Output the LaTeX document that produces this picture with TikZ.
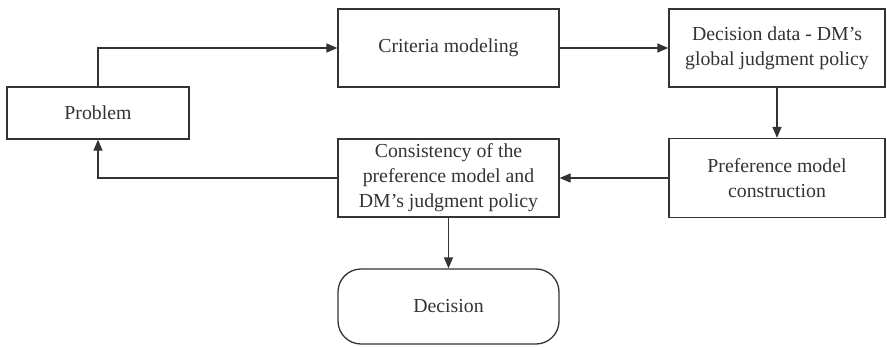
\documentclass[tikz,border=0pt]{standalone}
\usepackage{fontspec}
\setmainfont{Liberation Serif}
\usetikzlibrary{arrows.meta}
\definecolor{ink}{HTML}{333333}
\tikzset{
  box/.style={draw=ink, line width=1.3pt, text=ink, inner sep=0pt, align=center,
    font=\fontsize{19.8}{25}\selectfont},
  roundbox/.style={box, rounded corners=23pt},
  link/.style={draw=ink, line width=1.3pt, -{Triangle[length=11pt,width=9pt]}},
}
\begin{document}
\begin{tikzpicture}[x=1pt,y=-1pt]
  \useasboundingbox (0,0) rectangle (887,346);
  % process steps
  \node[box, minimum width=182pt, minimum height=52pt] (problem) at (98,113) {Problem};
  \node[box, minimum width=221pt, minimum height=78pt] (criteria) at (448.5,48) {Criteria modeling};
  \node[box, minimum width=216pt, minimum height=78pt] (data) at (777,48) {Decision data - DM’s\\global judgment policy};
  \node[box, minimum width=216pt, minimum height=79pt] (pref) at (777,178) {Preference model\\construction};
  \node[box, minimum width=221pt, minimum height=78pt] (consist) at (448.5,178) {Consistency of the\\preference model and\\DM’s judgment policy};
  \node[roundbox, minimum width=221pt, minimum height=75pt] (decision) at (448.5,306.5) {Decision};
  % connectors
  \draw[link] (problem.north) |- (criteria.west);
  \draw[link] (criteria.east) -- (data.west);
  \draw[link] (data.south) -- (pref.north);
  \draw[link] (pref.west) -- (consist.east);
  \draw[link] (consist.west) -| (problem.south);
  \draw[link] (consist.south) -- (decision.north);
\end{tikzpicture}
\end{document}
